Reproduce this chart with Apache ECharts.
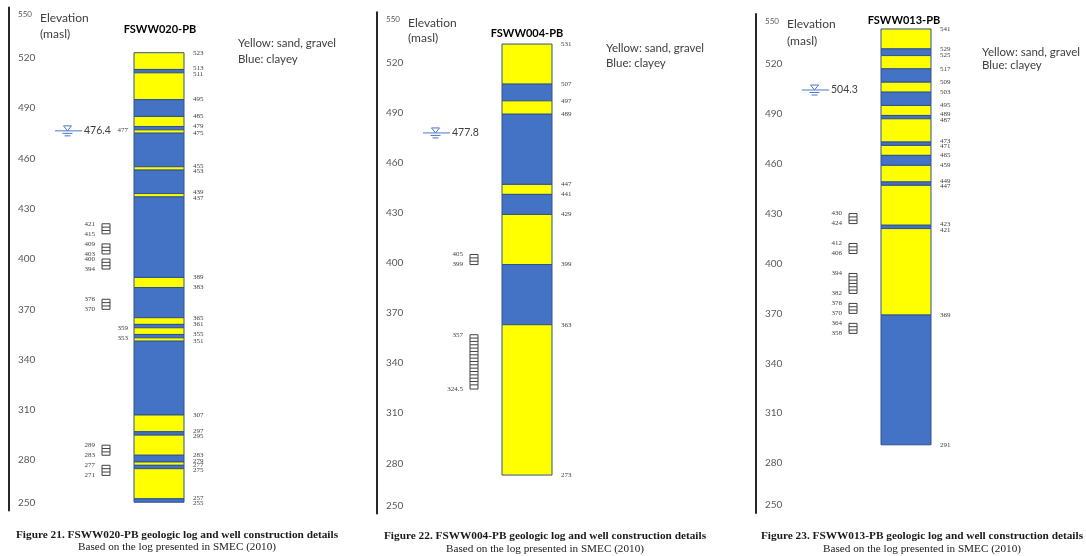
<!DOCTYPE html>
<html>
<head>
<meta charset="utf-8">
<script src="https://cdn.jsdelivr.net/npm/echarts@6/dist/echarts.min.js"></script>
<style>
  html, body { margin: 0; padding: 0; background: #ffffff; }
  #chart { width: 1086px; height: 556px; }
</style>
</head>
<body>
<div id="chart"></div>
<script>
// ---- Well FSWW020-PB ----
// layer boundaries (masl), top to bottom; one lithology entry per interval
const fsww020Bounds = [523, 513, 511, 495, 485, 479, 477, 475, 455, 453, 439, 437, 389, 383, 365, 361, 359, 355, 353, 351, 307, 297, 295, 283, 279, 277, 275, 257, 255];
const fsww020Lith = ['sand', 'clay', 'sand', 'clay', 'sand', 'clay', 'sand', 'clay', 'sand', 'clay', 'sand', 'clay', 'sand', 'clay', 'sand', 'clay', 'sand', 'clay', 'sand', 'clay', 'sand', 'clay', 'sand', 'clay', 'sand', 'clay', 'sand', 'clay'];
const fsww020LeftLabels = [477, 359, 353];
const fsww020Screens = [[421, 415], [409, 403], [400, 394], [376, 370], [289, 283], [277, 271]];
const fsww020Water = 476.4;

// ---- Well FSWW004-PB ----
const fsww004Bounds = [531, 507, 497, 489, 447, 441, 429, 399, 363, 273];
const fsww004Lith = ['sand', 'clay', 'sand', 'clay', 'sand', 'clay', 'sand', 'clay', 'sand'];
const fsww004LeftLabels = [];
const fsww004Screens = [[405, 399], [357, 324.5]];
const fsww004Water = 477.8;

// ---- Well FSWW013-PB ----
const fsww013Bounds = [541, 529, 525, 517, 509, 503, 495, 489, 487, 473, 471, 465, 459, 449, 447, 423, 421, 369, 291];
const fsww013Lith = ['sand', 'clay', 'sand', 'clay', 'sand', 'clay', 'sand', 'clay', 'sand', 'clay', 'sand', 'clay', 'sand', 'clay', 'sand', 'clay', 'sand', 'clay'];
const fsww013LeftLabels = [];
const fsww013Screens = [[430, 424], [412, 406], [394, 382], [376, 370], [364, 358]];
const fsww013Water = 504.3;

// elevation axis
const elevMin = 250;
const elevMax = 550;
const elevStep = 30;

// texts
const wellNames = ['FSWW020-PB', 'FSWW004-PB', 'FSWW013-PB'];
const figureNumbers = [21, 22, 23];
const legendLines = ['Yellow: sand, gravel', 'Blue: clayey'];
const axisTitleLines = ['Elevation', '(masl)'];
const sourceLine = 'Based on the log presented in SMEC (2010)';

// ---- layout (pixels) ----
const SANS = 'Lato, "Open Sans", sans-serif';
const SERIF = '"Liberation Serif", "DejaVu Serif", serif';
const PANEL_W = 330;
const COL_X0 = 125, COL_X1 = 175;         // log column, relative to axis
const SCR_X0 = 93, SCR_X1 = 101;          // screen boxes
const WL_X0 = 46, WL_X1 = 73;             // water-level line
const LABEL_GAP = 5.5;                    // minimum vertical spacing of depth labels
const SAND = '#FFFF00', CLAY = '#4472C4', EDGE = '#2F528F';

const panels = [
  { bounds: fsww020Bounds, lith: fsww020Lith, left: fsww020LeftLabels, screens: fsww020Screens, water: fsww020Water,
    grid: { left: 9, top: 7.4, height: 503.2 },
    elev: [40, 18, 34], title: [160, 29], legend: [238, 43, 59], caption: [177, 535, 547] },
  { bounds: fsww004Bounds, lith: fsww004Lith, left: fsww004LeftLabels, screens: fsww004Screens, water: fsww004Water,
    grid: { left: 377, top: 12.3, height: 501.2 },
    elev: [408, 23, 38], title: [527, 33], legend: [606, 48, 63], caption: [545, 536, 549] },
  { bounds: fsww013Bounds, lith: fsww013Lith, left: fsww013LeftLabels, screens: fsww013Screens, water: fsww013Water,
    grid: { left: 756, top: 14, height: 499 },
    elev: [787, 24, 41], title: [904, 20], legend: [982, 52, 65], caption: [922, 536, 549] }
];

function renderLayer(params, api) {
  const top = api.value(0), bot = api.value(1), isSand = api.value(2) === 1;
  const p0 = api.coord([COL_X0, top]);
  const p1 = api.coord([COL_X1, bot]);
  return {
    type: 'rect',
    shape: { x: p0[0], y: p0[1], width: p1[0] - p0[0], height: p1[1] - p0[1] },
    style: { fill: isSand ? SAND : CLAY, stroke: EDGE, lineWidth: 1 }
  };
}

// depth labels beside the column; neighbours closer than LABEL_GAP are nudged apart
function makeLabelRenderer(side, values) {
  return function (params, api) {
    const idx = params.dataIndex;
    const v = values[idx];
    const p = api.coord([side === 'right' ? COL_X1 : COL_X0, v]);
    let dy = 0;
    if (idx > 0) {
      const up = api.coord([COL_X0, values[idx - 1]])[1];
      const d = p[1] - up;
      if (d < LABEL_GAP) dy += (LABEL_GAP - d) / 2;
    }
    if (idx < values.length - 1) {
      const dn = api.coord([COL_X0, values[idx + 1]])[1];
      const d = dn - p[1];
      if (d < LABEL_GAP) dy -= (LABEL_GAP - d) / 2;
    }
    return {
      type: 'text',
      x: side === 'right' ? p[0] + 9 : p[0] - 6,
      y: p[1] + dy,
      style: {
        text: String(v), fill: '#404040', font: '7px ' + SERIF,
        align: side === 'right' ? 'left' : 'right', verticalAlign: 'middle'
      }
    };
  };
}

function renderScreen(params, api) {
  const top = api.value(0), bot = api.value(1);
  const p0 = api.coord([SCR_X0, top]);
  const p1 = api.coord([SCR_X1, bot]);
  const children = [{
    type: 'rect',
    shape: { x: p0[0], y: p0[1], width: p1[0] - p0[0], height: p1[1] - p0[1] },
    style: { fill: '#ffffff', stroke: '#404040', lineWidth: 1 }
  }];
  for (let e = top - 2; e > bot + 0.5; e -= 2) {
    const y = api.coord([SCR_X0, e])[1];
    children.push({ type: 'line', shape: { x1: p0[0], y1: y, x2: p1[0], y2: y }, style: { stroke: '#404040', lineWidth: 1 } });
  }
  children.push({ type: 'text', x: p0[0] - 7, y: p0[1], style: { text: String(top), fill: '#404040', font: '7px ' + SERIF, align: 'right', verticalAlign: 'middle' } });
  children.push({ type: 'text', x: p0[0] - 7, y: p1[1], style: { text: String(bot), fill: '#404040', font: '7px ' + SERIF, align: 'right', verticalAlign: 'middle' } });
  return { type: 'group', children };
}

function renderWater(params, api) {
  const v = api.value(0);
  const a = api.coord([WL_X0, v]);
  const b = api.coord([WL_X1, v]);
  const cx = (a[0] + b[0]) / 2 - 1;
  const y = a[1];
  const blue = '#4A78C8';
  return {
    type: 'group',
    children: [
      { type: 'line', shape: { x1: a[0], y1: y, x2: b[0], y2: y }, style: { stroke: blue, lineWidth: 1 } },
      { type: 'polygon', shape: { points: [[cx - 4, y - 5], [cx + 4, y - 5], [cx, y]] }, style: { fill: '#ffffff', stroke: blue, lineWidth: 1 } },
      { type: 'line', shape: { x1: cx - 5, y1: y + 2.5, x2: cx + 5, y2: y + 2.5 }, style: { stroke: blue, lineWidth: 1 } },
      { type: 'line', shape: { x1: cx - 3, y1: y + 5, x2: cx + 3, y2: y + 5 }, style: { stroke: blue, lineWidth: 1 } },
      { type: 'text', x: b[0] + 2, y: y, style: { text: String(v), fill: '#404040', font: '10.5px ' + SANS, align: 'left', verticalAlign: 'middle' } }
    ]
  };
}

const grids = [], xAxes = [], yAxes = [], series = [], graphics = [];

panels.forEach((pn, i) => {
  grids.push({ left: pn.grid.left, top: pn.grid.top, width: PANEL_W, height: pn.grid.height });
  xAxes.push({ gridIndex: i, type: 'value', min: 0, max: PANEL_W, show: false });
  yAxes.push({
    gridIndex: i, type: 'value', min: elevMin, max: elevMax, interval: elevStep,
    axisLine: { show: true, lineStyle: { color: '#262626', width: 2 } },
    axisTick: { show: false },
    splitLine: { show: false },
    axisLabel: {
      inside: true, margin: 9, color: '#595959', fontSize: 10, fontFamily: SANS,
      formatter: v => v === elevMax ? '{top|' + v + '}' : v === elevMin ? '{bot|' + v + '}' : String(v),
      rich: {
        top: { fontSize: 8, color: '#595959', fontFamily: SANS, padding: [15, 0, 0, 0] },
        bot: { fontSize: 10, color: '#595959', fontFamily: SANS, padding: [0, 0, 16, 0] }
      }
    }
  });

  const layers = pn.lith.map((l, k) => [pn.bounds[k], pn.bounds[k + 1], l === 'sand' ? 1 : 0]);
  const rightVals = pn.bounds.filter(b => pn.left.indexOf(b) < 0);
  series.push({ type: 'custom', xAxisIndex: i, yAxisIndex: i, renderItem: renderLayer, data: layers, silent: true });
  series.push({ type: 'custom', xAxisIndex: i, yAxisIndex: i, renderItem: makeLabelRenderer('right', rightVals),
    data: rightVals.map(b => [b]), silent: true });
  series.push({ type: 'custom', xAxisIndex: i, yAxisIndex: i, renderItem: makeLabelRenderer('left', pn.left),
    data: pn.left.map(b => [b]), silent: true });
  series.push({ type: 'custom', xAxisIndex: i, yAxisIndex: i, renderItem: renderScreen, data: pn.screens, silent: true });
  series.push({ type: 'custom', xAxisIndex: i, yAxisIndex: i, renderItem: renderWater, data: [[pn.water]], silent: true });

  // axis title, well name, legend and caption
  graphics.push({ type: 'text', x: pn.elev[0], y: pn.elev[1], style: { text: axisTitleLines[0], fill: '#404040', font: '12px ' + SANS, verticalAlign: 'middle' } });
  graphics.push({ type: 'text', x: pn.elev[0], y: pn.elev[2], style: { text: axisTitleLines[1], fill: '#404040', font: '12px ' + SANS, verticalAlign: 'middle' } });
  graphics.push({ type: 'text', x: pn.title[0], y: pn.title[1], style: { text: wellNames[i], fill: '#000000', font: 'bold 11px ' + SANS, align: 'center', verticalAlign: 'middle' } });
  graphics.push({ type: 'text', x: pn.legend[0], y: pn.legend[1], style: { text: legendLines[0], fill: '#404040', font: '11.5px ' + SANS, verticalAlign: 'middle' } });
  graphics.push({ type: 'text', x: pn.legend[0], y: pn.legend[2], style: { text: legendLines[1], fill: '#404040', font: '11.5px ' + SANS, verticalAlign: 'middle' } });
  graphics.push({ type: 'text', x: pn.caption[0], y: pn.caption[1], style: {
    text: 'Figure ' + figureNumbers[i] + '. ' + wellNames[i] + ' geologic log and well construction details',
    fill: '#1a1a1a', font: 'bold 11.3px ' + SERIF, align: 'center', verticalAlign: 'middle' } });
  graphics.push({ type: 'text', x: pn.caption[0], y: pn.caption[2], style: {
    text: sourceLine, fill: '#1a1a1a', font: '11.2px ' + SERIF, align: 'center', verticalAlign: 'middle' } });
});

const chart = echarts.init(document.getElementById('chart'), null, { renderer: 'canvas' });
chart.setOption({
  animation: false,
  backgroundColor: '#ffffff',
  grid: grids,
  xAxis: xAxes,
  yAxis: yAxes,
  series: series,
  graphic: graphics
});
</script>
</body>
</html>
